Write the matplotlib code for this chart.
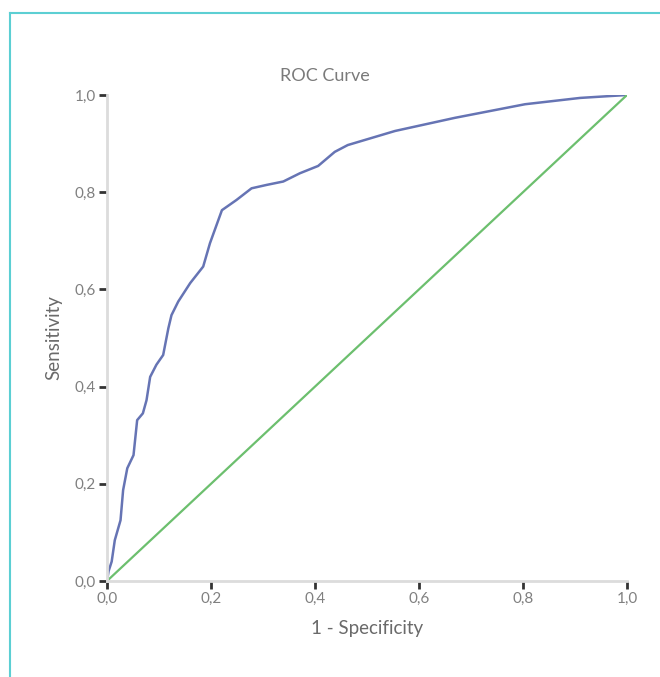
import matplotlib
matplotlib.use("Agg")
import matplotlib.pyplot as plt
from matplotlib.lines import Line2D
from matplotlib.ticker import FuncFormatter

plt.rcParams['font.family'] = ['Lato', 'DejaVu Sans']

fpr = [0.0, 0.003, 0.009, 0.015, 0.026, 0.031, 0.039, 0.051, 0.058, 0.069, 0.076,
       0.083, 0.095, 0.108, 0.118, 0.124, 0.137, 0.160, 0.185, 0.198, 0.221,
       0.249, 0.278, 0.307, 0.339, 0.371, 0.406, 0.438, 0.463, 0.554, 0.669,
       0.804, 0.910, 1.0]
tpr = [0.0, 0.02, 0.04, 0.084, 0.125, 0.187, 0.232, 0.259, 0.331, 0.345, 0.372,
       0.420, 0.445, 0.465, 0.520, 0.547, 0.575, 0.613, 0.647, 0.695, 0.763,
       0.784, 0.808, 0.815, 0.822, 0.839, 0.854, 0.883, 0.897, 0.926, 0.953,
       0.981, 0.994, 1.0]
ref_x = [0.0, 1.0]
ref_y = [0.0, 1.0]
ticks = [0.0, 0.2, 0.4, 0.6, 0.8, 1.0]

fig = plt.figure(figsize=(6.6, 6.77), dpi=100)
ax = fig.add_axes([107/660, 1-581/677, 520/660, 486/677])

ax.plot(fpr, tpr, color='#6674b4', lw=1.8, solid_joinstyle='round')
ax.plot(ref_x, ref_y, color='#6cbf6e', lw=1.6)

ax.set_xlim(0, 1)
ax.set_ylim(0, 1)
ax.set_xticks(ticks)
ax.set_yticks(ticks)
fmt = FuncFormatter(lambda v, p: f"{v:.1f}".replace('.', ','))
ax.xaxis.set_major_formatter(fmt)
ax.yaxis.set_major_formatter(fmt)
for s in ['top', 'right']:
    ax.spines[s].set_visible(False)
for s in ['left', 'bottom']:
    ax.spines[s].set_color('#dcdcdc')
    ax.spines[s].set_linewidth(2)
ax.tick_params(axis='both', direction='out', length=6, width=2, color='#333333',
               labelcolor='#808080', labelsize=11)
ax.tick_params(axis='x', pad=2)
ax.tick_params(axis='y', pad=2)

ax.set_xlabel('1 - Specificity', fontsize=13.5, color='#6a6a6a', labelpad=10)
ax.set_ylabel('Sensitivity', fontsize=13.5, color='#6a6a6a', labelpad=9)
fig.text(325/660, 1-76/677, 'ROC Curve', fontsize=13, color='#7a7a7a',
         ha='center', va='center')

# cyan frame
fig.add_artist(Line2D([10/660, 10/660], [0, 1-13/677], transform=fig.transFigure,
                      color='#5ccfd3', lw=1.5))
fig.add_artist(Line2D([10/660, 1], [1-13/677, 1-13/677], transform=fig.transFigure,
                      color='#5ccfd3', lw=1.5))

fig.savefig('out.png', dpi=100)
